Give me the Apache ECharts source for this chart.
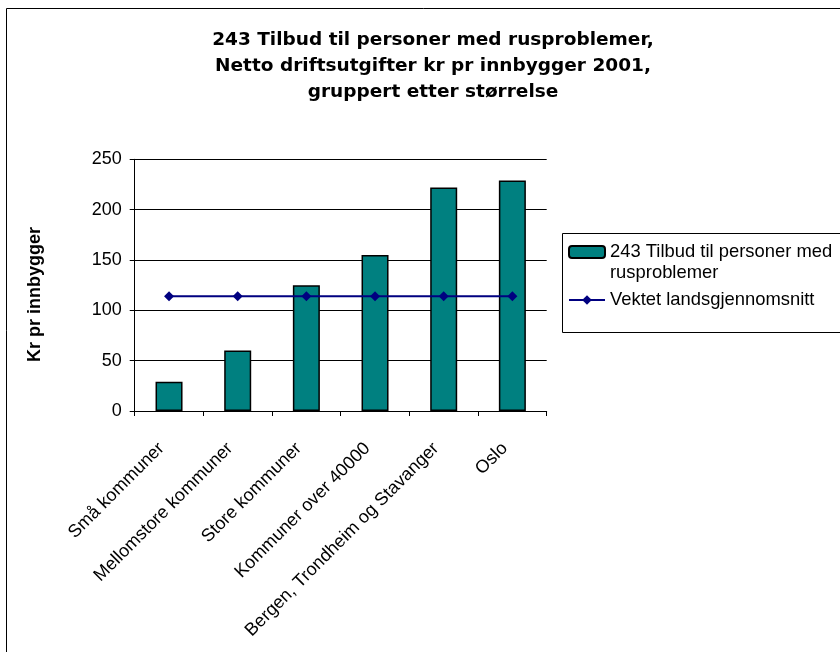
<!DOCTYPE html>
<html>
<head>
<meta charset="utf-8">
<script src="https://cdn.jsdelivr.net/npm/echarts@6/dist/echarts.min.js"></script>
<style>
html,body{margin:0;padding:0;background:#fff;}
#c{width:840px;height:652px;}
</style>
</head>
<body>
<div id="c"></div>
<script>
var categories = ['Små kommuner', 'Mellomstore kommuner', 'Store kommuner', 'Kommuner over 40000', 'Bergen, Trondheim og Stavanger', 'Oslo'];
var barValues = [29, 60, 125, 155, 222, 229];
var avgValues = [114, 114, 114, 114, 114, 114];
var barName = '243 Tilbud til personer med rusproblemer';
var lineName = 'Vektet landsgjennomsnitt';
var titleText = '243 Tilbud til personer med rusproblemer,\nNetto driftsutgifter kr pr innbygger 2001,\ngruppert etter størrelse';
var yAxisName = 'Kr pr innbygger';

var FONT = '"Liberation Sans", Arial, sans-serif';
var chart = echarts.init(document.getElementById('c'), null, {renderer: 'canvas'});
chart.setOption({
  animation: false,
  backgroundColor: '#fff',
  textStyle: {fontFamily: FONT, color: '#000'},
  title: {
    text: titleText,
    left: 433,
    top: 27,
    padding: 0,
    textAlign: 'center',
    textStyle: {fontFamily: '"DejaVu Sans", sans-serif', fontSize: 18.5, fontWeight: 'bold', color: '#000', lineHeight: 26}
  },
  graphic: [
    {type: 'rect', shape: {x: 6.5, y: 8.5, width: 900, height: 700}, style: {fill: 'none', stroke: '#000', lineWidth: 1}, z: -1, silent: true},
    {type: 'rect', shape: {x: 562.5, y: 233.5, width: 400, height: 99}, style: {fill: '#fff', stroke: '#000', lineWidth: 1}, z: 0, silent: true}
  ],
  legend: {
    orient: 'vertical',
    left: 568,
    top: 220.5,
    itemWidth: 36,
    itemHeight: 12,
    itemGap: 6,
    padding: 0,
    z: 5,
    textStyle: {fontFamily: FONT, fontSize: 18.4, color: '#000', lineHeight: 21},
    formatter: function (n) {
      if (n === barName) return '\n243 Tilbud til personer med\nrusproblemer';
      return n;
    },
    data: [barName, lineName]
  },
  grid: {left: 134.7, right: 293.3, top: 159.3, bottom: 241, containLabel: false},
  xAxis: {
    type: 'category',
    data: categories,
    boundaryGap: true,
    axisLine: {lineStyle: {color: '#000', width: 1}},
    axisTick: {show: true, interval: 0, length: 5, lineStyle: {color: '#000'}},
    axisLabel: {interval: 0, rotate: 45, margin: 27, padding: [0, 10.8, 27.6, 0], fontFamily: FONT, fontSize: 18, color: '#000'},
    splitLine: {show: false}
  },
  yAxis: {
    type: 'value',
    min: 0, max: 250, interval: 50,
    name: yAxisName,
    nameLocation: 'middle',
    nameGap: 91,
    nameTextStyle: {fontFamily: FONT, fontSize: 18, fontWeight: 'bold', color: '#000', padding: [0, 18.6, 0, 0]},
    axisLine: {show: true, lineStyle: {color: '#000', width: 1}},
    axisTick: {show: true, length: 5, lineStyle: {color: '#000'}},
    axisLabel: {margin: 13, fontFamily: FONT, fontSize: 18, color: '#000'},
    splitLine: {show: true, lineStyle: {color: '#000', width: 1}}
  },
  series: [
    {
      name: barName,
      type: 'bar',
      data: barValues,
      barWidth: 27,
      itemStyle: {color: '#008080', borderColor: '#000', borderWidth: 1.5}
    },
    {
      name: lineName,
      type: 'line',
      data: avgValues,
      symbol: 'diamond',
      symbolSize: 10,
      lineStyle: {color: '#000080', width: 2},
      itemStyle: {color: '#000080', borderWidth: 0},
      z: 3
    }
  ]
});
</script>
</body>
</html>
